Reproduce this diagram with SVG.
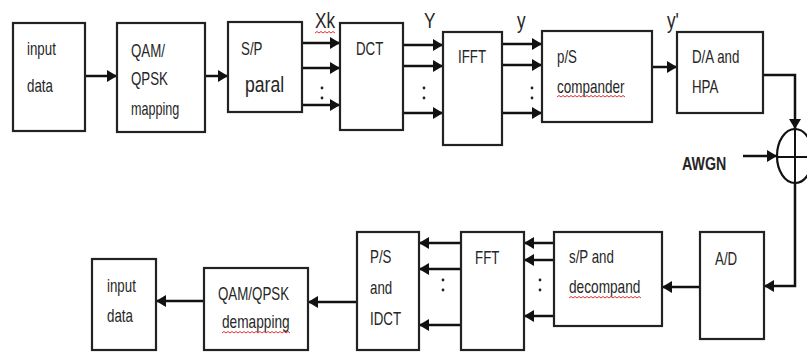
<svg xmlns="http://www.w3.org/2000/svg" width="807" height="352" viewBox="0 0 807 352">
<defs>
<marker id="ah" markerUnits="userSpaceOnUse" markerWidth="11" markerHeight="12" refX="10" refY="6" orient="auto">
<path d="M0,0 L10,6 L0,12 z" fill="#111"/>
</marker>
<style>
.box{fill:#fff;stroke:#222;stroke-width:2.2}
.ln{fill:none;stroke:#111;stroke-width:2.5}
.ar{fill:none;stroke:#111;stroke-width:2.5;marker-end:url(#ah)}
text{font-family:"Liberation Sans",Arial,sans-serif;font-size:18px;fill:#262626}
.big{font-size:22px}
.bold{font-weight:bold;font-size:18px}
.sq{fill:none;stroke:#e03030;stroke-width:1}
.dot{fill:#222}
</style>
</defs>
<rect width="807" height="352" fill="#fff"/>

<g id="connectors">
<line class="ar" x1="85" y1="76" x2="117" y2="76"/>
<line class="ar" x1="205" y1="76" x2="228" y2="76"/>
<line class="ar" x1="302" y1="43" x2="340" y2="43"/>
<line class="ar" x1="302" y1="68" x2="340" y2="68"/>
<line class="ar" x1="302" y1="105" x2="340" y2="105"/>
<line class="ar" x1="403" y1="45" x2="443" y2="45"/>
<line class="ar" x1="403" y1="66" x2="443" y2="66"/>
<line class="ar" x1="403" y1="113" x2="443" y2="113"/>
<line class="ar" x1="502" y1="44" x2="542" y2="44"/>
<line class="ar" x1="502" y1="65" x2="542" y2="65"/>
<line class="ar" x1="502" y1="113" x2="542" y2="113"/>
<line class="ar" x1="652" y1="67" x2="677" y2="67"/>
<polyline class="ar" points="763,75 795,75 795,129"/>
<line class="ar" x1="743" y1="156" x2="777" y2="156"/>
<polyline class="ar" points="795,183 795,286 764,286"/>
<line class="ar" x1="700" y1="287" x2="662" y2="287"/>
<line class="ar" x1="554" y1="243" x2="524" y2="243"/>
<line class="ar" x1="554" y1="260" x2="524" y2="260"/>
<line class="ar" x1="554" y1="316" x2="524" y2="316"/>
<line class="ar" x1="461" y1="243" x2="419" y2="243"/>
<line class="ar" x1="461" y1="269" x2="419" y2="269"/>
<line class="ar" x1="461" y1="325" x2="419" y2="325"/>
<line class="ar" x1="357" y1="302" x2="308" y2="302"/>
<line class="ar" x1="204" y1="301" x2="156" y2="301"/>
<g class="dot">
<circle cx="322" cy="88" r="1.4"/><circle cx="322" cy="98" r="1.4"/>
<circle cx="424" cy="88" r="1.4"/><circle cx="424" cy="98" r="1.4"/>
<circle cx="532" cy="88" r="1.4"/><circle cx="532" cy="98" r="1.4"/>
<circle cx="443" cy="280" r="1.4"/><circle cx="443" cy="290" r="1.4"/>
<circle cx="540" cy="280" r="1.4"/><circle cx="540" cy="290" r="1.4"/>
</g>
<text class="big" transform="translate(315 28) scale(0.78 1)">Xk</text>
<text class="big" transform="translate(424 28) scale(0.78 1)">Y</text>
<text class="big" transform="translate(517 28) scale(0.78 1)">y</text>
<text class="big" transform="translate(667 28) scale(0.78 1)">y'</text>
<text class="bold" transform="translate(682 170) scale(0.79 1)">AWGN</text>
</g>

<g id="input1">
<rect class="box" x="13" y="23" width="72" height="108"/>
<text transform="translate(27 55) scale(0.74 1)">input</text>
<text transform="translate(27 92) scale(0.74 1)">data</text>
</g>
<g id="qam">
<rect class="box" x="117" y="23" width="88" height="109"/>
<text transform="translate(131 57) scale(0.74 1)">QAM/</text>
<text transform="translate(131 85) scale(0.74 1)">QPSK</text>
<text transform="translate(131 115) scale(0.7 1)">mapping</text>
</g>
<g id="sp">
<rect class="box" x="228" y="22" width="74" height="90"/>
<text transform="translate(241 55) scale(0.74 1)">S/P</text>
<text class="big" transform="translate(245 92) scale(0.8 1)">paral</text>
</g>
<g id="dct">
<rect class="box" x="340" y="23" width="63" height="107"/>
<text transform="translate(356 55) scale(0.74 1)">DCT</text>
</g>
<g id="ifft">
<rect class="box" x="443" y="32" width="59" height="113"/>
<text transform="translate(458 63) scale(0.74 1)">IFFT</text>
</g>
<g id="compander">
<rect class="box" x="542" y="31" width="110" height="91"/>
<text transform="translate(557 63) scale(0.74 1)">p/S</text>
<text transform="translate(557 93) scale(0.75 1)">compander</text>
</g>
<g id="dahpa">
<rect class="box" x="677" y="32" width="86" height="81"/>
<text transform="translate(692 63) scale(0.74 1)">D/A and</text>
<text transform="translate(692 93) scale(0.74 1)">HPA</text>
</g>
<g id="adder">
<ellipse cx="795" cy="156" rx="18" ry="27" fill="#fff" stroke="#111" stroke-width="2.2"/>
<line x1="777" y1="157" x2="813" y2="157" stroke="#111" stroke-width="2"/>
<line x1="795" y1="129" x2="795" y2="183" stroke="#111" stroke-width="2"/>
</g>
<g id="ad">
<rect class="box" x="700" y="232" width="64" height="107"/>
<text transform="translate(715 265) scale(0.74 1)">A/D</text>
</g>
<g id="decompand">
<rect class="box" x="554" y="232" width="108" height="94"/>
<text transform="translate(569 263) scale(0.74 1)">s/P and</text>
<text transform="translate(569 293) scale(0.76 1)">decompand</text>
</g>
<g id="fft">
<rect class="box" x="461" y="232" width="63" height="118"/>
<text transform="translate(475 264) scale(0.74 1)">FFT</text>
</g>
<g id="idct">
<rect class="box" x="357" y="232" width="62" height="118"/>
<text transform="translate(370 263) scale(0.74 1)">P/S</text>
<text transform="translate(370 294) scale(0.74 1)">and</text>
<text transform="translate(370 325) scale(0.74 1)">IDCT</text>
</g>
<g id="demapping">
<rect class="box" x="204" y="268" width="104" height="82"/>
<text transform="translate(218 300) scale(0.74 1)">QAM/QPSK</text>
<text transform="translate(222 328) scale(0.76 1)">demapping</text>
</g>
<g id="input2">
<rect class="box" x="92" y="259" width="64" height="91"/>
<text transform="translate(107 292) scale(0.74 1)">input</text>
<text transform="translate(107 322) scale(0.74 1)">data</text>
</g>

<g id="spellcheck">
<path class="sq" d="M315,33 l2,-1.5 l2,1.5 l2,-1.5 l2,1.5 l2,-1.5 l2,1.5 l2,-1.5 l2,1.5 l2,-1.5 l2,1.5"/>
<path class="sq" d="M557,97 l2,-1.5 l2,1.5 l2,-1.5 l2,1.5 l2,-1.5 l2,1.5 l2,-1.5 l2,1.5 l2,-1.5 l2,1.5 l2,-1.5 l2,1.5 l2,-1.5 l2,1.5 l2,-1.5 l2,1.5 l2,-1.5 l2,1.5 l2,-1.5 l2,1.5 l2,-1.5 l2,1.5 l2,-1.5 l2,1.5 l2,-1.5 l2,1.5 l2,-1.5 l2,1.5 l2,-1.5 l2,1.5 l2,-1.5 l2,1.5 l2,-1.5 l2,1.5"/>
<path class="sq" d="M569,298 l2,-1.5 l2,1.5 l2,-1.5 l2,1.5 l2,-1.5 l2,1.5 l2,-1.5 l2,1.5 l2,-1.5 l2,1.5 l2,-1.5 l2,1.5 l2,-1.5 l2,1.5 l2,-1.5 l2,1.5 l2,-1.5 l2,1.5 l2,-1.5 l2,1.5 l2,-1.5 l2,1.5 l2,-1.5 l2,1.5 l2,-1.5 l2,1.5 l2,-1.5 l2,1.5 l2,-1.5 l2,1.5 l2,-1.5 l2,1.5 l2,-1.5 l2,1.5 l2,-1.5 l2,1.5"/>
<path class="sq" d="M222,333 l2,-1.5 l2,1.5 l2,-1.5 l2,1.5 l2,-1.5 l2,1.5 l2,-1.5 l2,1.5 l2,-1.5 l2,1.5 l2,-1.5 l2,1.5 l2,-1.5 l2,1.5 l2,-1.5 l2,1.5 l2,-1.5 l2,1.5 l2,-1.5 l2,1.5 l2,-1.5 l2,1.5 l2,-1.5 l2,1.5 l2,-1.5 l2,1.5 l2,-1.5 l2,1.5 l2,-1.5 l2,1.5 l2,-1.5 l2,1.5 l2,-1.5 l2,1.5"/>
</g>
</svg>
